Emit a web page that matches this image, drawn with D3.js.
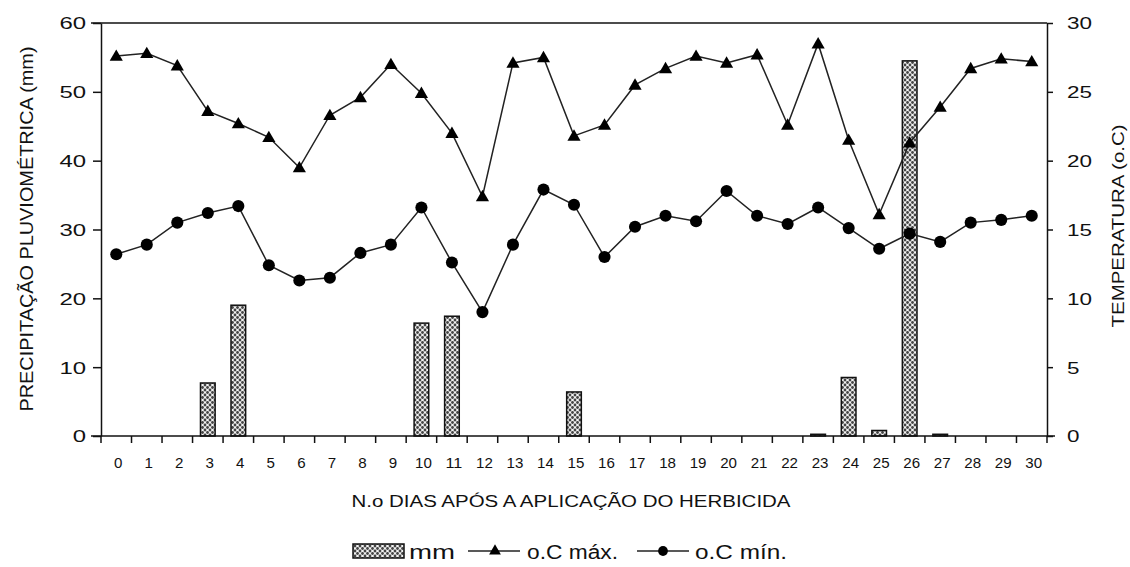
<!DOCTYPE html>
<html>
<head>
<meta charset="utf-8">
<script src="https://cdn.jsdelivr.net/npm/d3@7"></script>
<style>
	body { margin: 0; background: #fff; }
	svg { display: block; font-family: "Liberation Sans", Arial, sans-serif; }
</style>
</head>
<body>
<svg width="1130" height="567"></svg>
<script>
'use strict';

// days after herbicide application
const days = d3.range(0, 31).map(String);

// rainfall in mm (0 = no bar)
const rain = [0, 0, 0, 7.7, 19, 0, 0, 0, 0, 0, 16.4, 17.4, 0, 0, 0, 6.4, 0, 0, 0, 0, 0, 0, 0, 0.25, 8.5, 0.8, 54.5, 0.25, 0, 0, 0];

// max / min temperature (o.C)
const tMax = [27.6, 27.8, 26.9, 23.6, 22.7, 21.7, 19.5, 23.3, 24.6, 27.0, 24.9, 22.0, 17.4, 27.1, 27.5, 21.8, 22.6, 25.5, 26.7, 27.6, 27.1, 27.7, 22.6, 28.5, 21.5, 16.1, 21.3, 23.9, 26.7, 27.4, 27.2];
const tMin = [13.2, 13.9, 15.5, 16.2, 16.7, 12.4, 11.3, 11.5, 13.3, 13.9, 16.6, 12.6, 9.0, 13.9, 17.9, 16.8, 13.0, 15.2, 16.0, 15.6, 17.8, 16.0, 15.4, 16.6, 15.1, 13.6, 14.7, 14.1, 15.5, 15.7, 16.0];

const leftTicks = [0, 10, 20, 30, 40, 50, 60];
const rightTicks = [0, 5, 10, 15, 20, 25, 30];

const ink = '#111';
const svg = d3.select('svg');

const plot = {left: 101, right: 1047, top: 23, bottom: 436};

const x = d3.scaleBand().domain(days).range([plot.left, plot.right]).padding(0);
const yRain = d3.scaleLinear().domain([0, 60]).range([plot.bottom, plot.top]);
const yTemp = d3.scaleLinear().domain([0, 30]).range([plot.bottom, plot.top]);

// dotted fill used by the rainfall bars
const pat = svg.append('defs').append('pattern')
	.attr('id', 'dots')
	.attr('width', 5)
	.attr('height', 5)
	.attr('patternUnits', 'userSpaceOnUse');
pat.append('rect').attr('width', 5).attr('height', 5).attr('fill', '#f2f2f2');
pat.selectAll('circle')
	.data([[0, 0], [5, 0], [0, 5], [5, 5], [2.5, 2.5]])
	.join('circle')
	.attr('cx', d => d[0])
	.attr('cy', d => d[1])
	.attr('r', 1.4)
	.attr('fill', '#444');

// frame top line
svg.append('line')
	.attr('x1', plot.left - 10).attr('x2', plot.right)
	.attr('y1', plot.top).attr('y2', plot.top)
	.attr('stroke', ink).attr('stroke-width', 1.5);

// bars
const barW = x.bandwidth() * 0.48;
svg.append('g')
	.selectAll('rect')
	.data(days.map((d, i) => ({day: d, v: rain[i]})).filter(d => d.v > 0))
	.join('rect')
	.attr('x', d => x(d.day) + (x.bandwidth() - barW) / 2)
	.attr('y', d => yRain(d.v))
	.attr('width', barW)
	.attr('height', d => yRain(0) - yRain(d.v))
	.attr('fill', 'url(#dots)')
	.attr('stroke', ink)
	.attr('stroke-width', 1.5);

// axes
const styleAxis = g => {
	g.selectAll('.domain').attr('stroke', ink).attr('stroke-width', 1.5);
	g.selectAll('.tick line').attr('stroke', ink).attr('stroke-width', 1.5);
	g.selectAll('.tick text').attr('fill', ink);
};

svg.append('g')
	.attr('transform', `translate(${plot.left},0)`)
	.call(d3.axisLeft(yRain).tickValues(leftTicks).tickSize(8).tickSizeOuter(0).tickPadding(7))
	.call(styleAxis)
	.call(g => g.selectAll('.tick text')
		.attr('font-size', 17)
		.attr('textLength', d => String(d).length * 13.3)
		.attr('lengthAdjust', 'spacingAndGlyphs')
		.attr('dy', '0.35em'));

svg.append('g')
	.attr('transform', `translate(${plot.right},0)`)
	.call(d3.axisRight(yTemp).tickValues(rightTicks).tickSize(6).tickSizeOuter(0).tickPadding(14))
	.call(styleAxis)
	.call(g => g.selectAll('.tick text')
		.attr('font-size', 17)
		.attr('textLength', d => String(d).length * 12.5)
		.attr('lengthAdjust', 'spacingAndGlyphs')
		.attr('dy', '0.35em'));

// x axis: ticks sit between the days
const xAxis = svg.append('g')
	.attr('transform', `translate(0,${plot.bottom})`);
xAxis.append('line')
	.attr('x1', plot.left - 10).attr('x2', plot.right + 8)
	.attr('stroke', ink).attr('stroke-width', 1.5);
xAxis.selectAll('line.tk')
	.data(days.concat(['end']))
	.join('line')
	.attr('class', 'tk')
	.attr('x1', (d, i) => plot.left + i * x.step())
	.attr('x2', (d, i) => plot.left + i * x.step())
	.attr('y1', 0).attr('y2', 7)
	.attr('stroke', ink).attr('stroke-width', 1.5);
xAxis.selectAll('text')
	.data(days)
	.join('text')
	.attr('x', d => x(d) + x.bandwidth() / 2 + 2)
	.attr('y', 32)
	.attr('text-anchor', 'middle')
	.attr('font-size', 15)
	.attr('textLength', d => d.length * 8.4)
	.attr('lengthAdjust', 'spacingAndGlyphs')
	.attr('fill', ink)
	.text(d => d);

// temperature lines
const cx = d => x(d) + x.bandwidth() / 2;
const series = [
	{name: 'max', values: tMax, symbol: d3.symbolTriangle, size: 75},
	{name: 'min', values: tMin, symbol: d3.symbolCircle, size: 115}
];

series.forEach(s => {
	const pts = days.map((d, i) => [cx(d), yTemp(s.values[i])]);
	svg.append('path')
		.attr('d', d3.line()(pts))
		.attr('fill', 'none')
		.attr('stroke', '#222')
		.attr('stroke-width', 1.5);
	svg.append('g')
		.selectAll('path')
		.data(pts)
		.join('path')
		.attr('transform', d => `translate(${d[0]},${d[1] + (s.name === 'max' ? 1 : 0)})`)
		.attr('d', d3.symbol(s.symbol, s.size))
		.attr('fill', '#000');
});

// axis titles
svg.append('text')
	.attr('transform', 'translate(33,229) rotate(-90)')
	.attr('text-anchor', 'middle')
	.attr('font-size', 18)
	.attr('textLength', 365)
	.attr('lengthAdjust', 'spacingAndGlyphs')
	.attr('fill', ink)
	.text('PRECIPITAÇÃO PLUVIOMÉTRICA (mm)');

svg.append('text')
	.attr('transform', 'translate(1124,226) rotate(-90)')
	.attr('text-anchor', 'middle')
	.attr('font-size', 17)
	.attr('textLength', 203)
	.attr('lengthAdjust', 'spacingAndGlyphs')
	.attr('fill', ink)
	.text('TEMPERATURA (o.C)');

svg.append('text')
	.attr('x', 571)
	.attr('y', 507)
	.attr('text-anchor', 'middle')
	.attr('font-size', 16)
	.attr('textLength', 439)
	.attr('lengthAdjust', 'spacingAndGlyphs')
	.attr('fill', ink)
	.text('N.o DIAS APÓS A APLICAÇÃO DO HERBICIDA');

// legend
const lg = svg.append('g').attr('transform', 'translate(0,551)');
const legendText = (x0, w, t) => lg.append('text')
	.attr('x', x0).attr('y', 8)
	.attr('font-size', 20)
	.attr('textLength', w)
	.attr('lengthAdjust', 'spacingAndGlyphs')
	.attr('fill', ink)
	.text(t);

lg.append('rect')
	.attr('x', 353).attr('y', -7)
	.attr('width', 51).attr('height', 14)
	.attr('fill', 'url(#dots)')
	.attr('stroke', ink).attr('stroke-width', 1.5);
legendText(409, 46, 'mm');

lg.append('line').attr('x1', 468).attr('x2', 520).attr('stroke', '#222').attr('stroke-width', 1.5);
lg.append('path').attr('transform', 'translate(495,0)').attr('d', d3.symbol(d3.symbolTriangle, 60)).attr('fill', '#000');
legendText(527, 91, 'o.C máx.');

lg.append('line').attr('x1', 637).attr('x2', 689).attr('stroke', '#222').attr('stroke-width', 1.5);
lg.append('path').attr('transform', 'translate(663,0)').attr('d', d3.symbol(d3.symbolCircle, 75)).attr('fill', '#000');
legendText(695, 92, 'o.C mín.');
</script>
</body>
</html>
